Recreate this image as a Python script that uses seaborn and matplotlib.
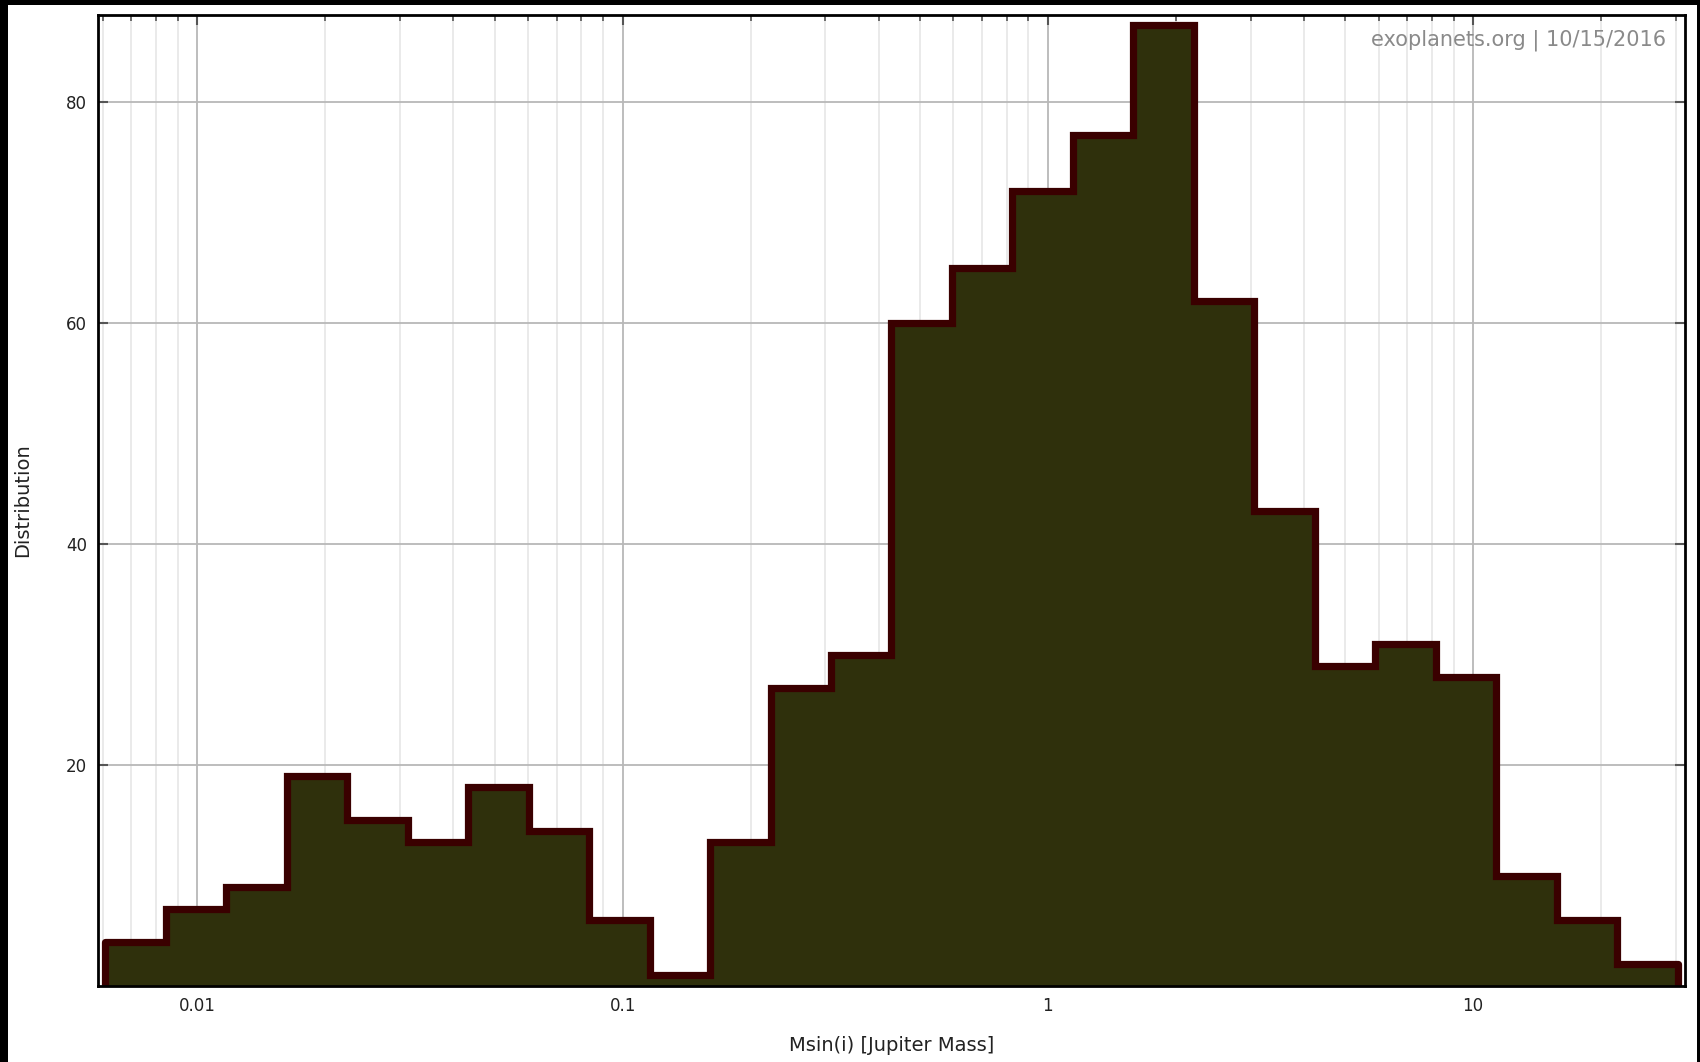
import numpy as np
import pandas as pd
import matplotlib
matplotlib.use("Agg")
import matplotlib.pyplot as plt
from matplotlib.ticker import FixedLocator, FixedFormatter, LogLocator, NullFormatter
import seaborn as sns

# Planet minimum-mass histogram (counts per logarithmic bin)
mass_lo = 0.00607   # lower edge of first bin [M_J]
mass_hi = 30.3      # upper edge of last bin [M_J]
n_bins = 26
counts = [4, 7, 9, 19, 15, 13, 18, 14, 6, 1, 13, 27, 30, 60,
          65, 72, 77, 87, 62, 43, 29, 31, 28, 10, 6, 2]

x_ticks = [0.01, 0.1, 1, 10]
x_tick_labels = ["0.01", "0.1", "1", "10"]
y_ticks = [20, 40, 60, 80]
y_tick_labels = ["20", "40", "60", "80"]

log_lo, log_hi = np.log10(mass_lo), np.log10(mass_hi)
step = (log_hi - log_lo) / n_bins
centers = 10 ** (log_lo + step * (np.arange(n_bins) + 0.5))
df = pd.DataFrame({"mass": centers, "n": counts})

fill_color = "#2f300c"
edge_color = "#3a0000"
edge_width = 5.2

sns.set_theme(style="white")
plt.rcParams["font.family"] = ["DejaVu Sans"]

fig = plt.figure(figsize=(17, 10.62), dpi=100)
fig.patch.set_facecolor("black")
# white panel inside the dark frame
fig.patches.append(plt.Rectangle((8 / 1700, 0), (1697 - 8) / 1700, 1 - 5 / 1062,
                                 transform=fig.transFigure, facecolor="white",
                                 edgecolor="none", zorder=-10))

ax = fig.add_axes([98 / 1700, 1 - 986 / 1062, (1685 - 98) / 1700, (986 - 15) / 1062])
ax.set_facecolor("white")
ax.set_axisbelow(True)

hist_kws = dict(data=df, x="mass", weights="n", bins=n_bins, binrange=(log_lo, log_hi),
                log_scale=True, element="step", ax=ax)
# filled body
sns.histplot(**hist_kws, fill=True, color=fill_color, alpha=1.0,
             linewidth=0, zorder=3)
# outline along the top of the bins
sns.histplot(**hist_kws, fill=False, color=edge_color, linewidth=edge_width,
             zorder=4, solid_joinstyle="miter")
# closing vertical edges of the first and last bins
ax.vlines([mass_lo, mass_hi], 0, [counts[0], counts[-1]], color=edge_color,
          linewidth=edge_width, zorder=4)

ax.set_xlim(0.00584, 31.5)
ax.set_ylim(0, 87.9)

ax.xaxis.set_major_locator(FixedLocator(x_ticks))
ax.xaxis.set_major_formatter(FixedFormatter(x_tick_labels))
ax.xaxis.set_minor_locator(LogLocator(base=10, subs=np.arange(2, 10)))
ax.xaxis.set_minor_formatter(NullFormatter())
ax.yaxis.set_major_locator(FixedLocator(y_ticks))
ax.yaxis.set_major_formatter(FixedFormatter(y_tick_labels))

ax.grid(True, which="major", axis="both", color="#b8b8b8", linewidth=1.3)
ax.grid(True, which="minor", axis="x", color="#e6e6e6", linewidth=1.2)

ax.tick_params(axis="both", which="major", direction="in", length=7, width=1.5,
               color="#555555", labelsize=12, labelcolor="#222222",
               top=True, right=True, bottom=True, left=True, pad=8)
ax.tick_params(axis="x", which="minor", direction="in", length=4, width=1.2,
               color="#555555", top=True, bottom=True)

for sp in ax.spines.values():
    sp.set_visible(True)
    sp.set_color("black")
    sp.set_linewidth(2)
    sp.set_zorder(6)

ax.set_xlabel("Msin(i) [Jupiter Mass]", fontsize=14, color="#222222", labelpad=15)
ax.set_ylabel("Distribution", fontsize=14, color="#222222", labelpad=24)

ax.text(0.988, 0.985, "exoplanets.org | 10/15/2016", transform=ax.transAxes,
        ha="right", va="top", fontsize=15, color="#8a8a8a", zorder=5)

fig.savefig("out.png", dpi=100, facecolor=fig.get_facecolor())
